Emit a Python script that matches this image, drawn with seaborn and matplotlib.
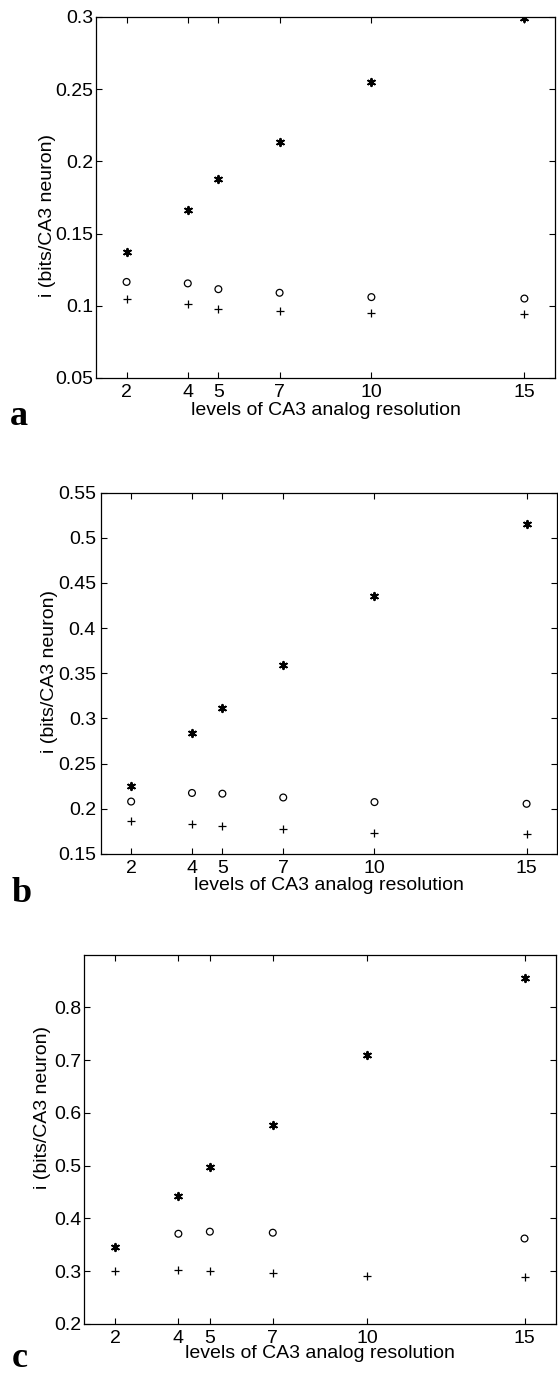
import numpy as np
import pandas as pd
import matplotlib
matplotlib.use("Agg")
import matplotlib.pyplot as plt
import seaborn as sns

# Data
levels = [2, 4, 5, 7, 10, 15]

a_star = [0.137, 0.166, 0.1875, 0.2135, 0.255, 0.299]
a_circle = [0.1165, 0.1155, 0.1115, 0.109, 0.106, 0.105]
a_plus = [0.1045, 0.1012, 0.098, 0.0967, 0.0948, 0.0945]

b_star = [0.225, 0.284, 0.312, 0.3595, 0.435, 0.5155]
b_circle = [0.208, 0.2175, 0.2167, 0.2125, 0.2074, 0.2055]
b_plus = [0.186, 0.183, 0.1805, 0.1772, 0.1735, 0.1724]

c_star = [0.345, 0.443, 0.498, 0.578, 0.709, 0.855]
c_circle = [np.nan, 0.371, 0.375, 0.373, np.nan, 0.362]
c_plus = [0.300, 0.303, 0.300, 0.296, 0.291, 0.289]

ylims = [(0.05, 0.3), (0.15, 0.55), (0.2, 0.9)]
yticks = [
    [0.05, 0.1, 0.15, 0.2, 0.25, 0.3],
    [0.15, 0.2, 0.25, 0.3, 0.35, 0.4, 0.45, 0.5, 0.55],
    [0.2, 0.3, 0.4, 0.5, 0.6, 0.7, 0.8],
]
yticklabels = [
    ["0.05", "0.1", "0.15", "0.2", "0.25", "0.3"],
    ["0.15", "0.2", "0.25", "0.3", "0.35", "0.4", "0.45", "0.5", "0.55"],
    ["0.2", "0.3", "0.4", "0.5", "0.6", "0.7", "0.8"],
]
panel_letters = ["a", "b", "c"]

sns.set_theme(style="ticks")
plt.rcParams['font.family'] = ['Liberation Sans', 'DejaVu Sans']
plt.rcParams['text.color'] = 'black'
plt.rcParams['axes.labelcolor'] = 'black'

fig = plt.figure(figsize=(5.58, 13.76), dpi=100)

# axes rectangles in figure fraction
rects = [
    [0.172, 0.7253, 0.8226, 0.2624],
    [0.1805, 0.3794, 0.8177, 0.2626],
    [0.1505, 0.0378, 0.8459, 0.2684],
]
ypads = [2.0, 3.4, 1.6]
ylab_pos = [(-0.087, 0.449), (-0.094, 0.504), (-0.070, 0.586)]
xlab_y = [-0.066, -0.064, -0.058]
letter_pos = [(0.018, 0.691, "baseline"), (0.021, 0.3445, "baseline"),
              (0.021, 0.0005, "bottom")]

series = [
    (a_star, a_circle, a_plus),
    (b_star, b_circle, b_plus),
    (c_star, c_circle, c_plus),
]

for i, (stars, circles, pluses) in enumerate(series):
    ax = fig.add_axes(rects[i])
    sns.scatterplot(x=levels, y=stars, marker=(6, 2, 0), s=28, color="black",
                    linewidth=1.4, ax=ax)
    sns.scatterplot(x=levels, y=circles, marker="o", s=24, facecolor="none",
                    edgecolor="black", linewidth=0.9, ax=ax)
    sns.scatterplot(x=levels, y=pluses, marker="+", s=34, color="black",
                    linewidth=0.9, ax=ax)

    ax.set_xlim(1, 16)
    ax.set_ylim(*ylims[i])
    ax.set_xticks(levels)
    ax.set_xticklabels([str(v) for v in levels])
    ax.set_yticks(yticks[i])
    ax.set_yticklabels(yticklabels[i])

    ax.tick_params(direction="in", length=4, width=0.8, top=True, right=True,
                   labelsize=14, colors="black")
    ax.tick_params(axis="x", pad=4.5)
    ax.tick_params(axis="y", pad=ypads[i])
    for sp in ax.spines.values():
        sp.set_visible(True)
        sp.set_color("black")
        sp.set_linewidth(0.9)

    ax.set_xlabel("levels of CA3 analog resolution", fontsize=14, color="black")
    ax.set_ylabel("i (bits/CA3 neuron)", fontsize=14, color="black")
    ax.xaxis.set_label_coords(0.5, xlab_y[i])
    ax.yaxis.set_label_coords(*ylab_pos[i])
    ax.set_facecolor("white")

    lx, ly, lva = letter_pos[i]
    fig.text(lx, ly, panel_letters[i], fontsize=26, fontweight="bold",
             family="Liberation Serif", ha="left", va=lva, color="black")

fig.savefig("out.png", dpi=100, facecolor="white")
